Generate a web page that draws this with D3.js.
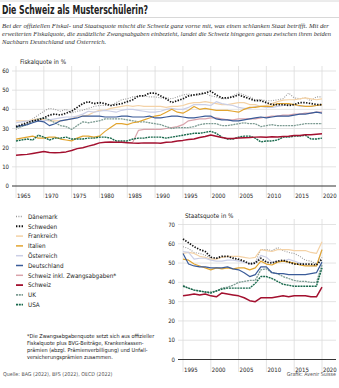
<!DOCTYPE html>
<html>
<head>
<meta charset="utf-8">
<script src="https://cdn.jsdelivr.net/npm/d3@7"></script>
<style>
  body { margin: 0; background: #fff; }
  text { font-family: "Liberation Sans Narrow", "DejaVu Sans Condensed", "Roboto", sans-serif; fill: #222; }
  .sub { font-family: "Liberation Serif", "DejaVu Serif", serif; font-style: italic; fill: #333; }
</style>
</head>
<body>
<div id="chart"></div>
<script>
// Fiskalquote in % (OECD), 1965-2020
var yearsFiskal = d3.range(1965, 2021);
var fiskalDK = [29.5, 31, 32.5, 35, 37, 39, 40.5, 40, 39, 40,
  38, 39, 39.5, 40.5, 41.5, 42, 42, 42, 43.5, 45,
  45.5, 46.5, 47, 47, 46.5, 46.5, 46, 46, 45.5, 46.5,
  47.5, 48, 47.5, 47.5, 48.5, 47, 46.5, 45.5, 45.5, 47,
  48.5, 47.5, 46.5, 45, 45, 44.5, 44.5, 45, 45.5, 48.5,
  46, 45.5, 46, 44.5, 46.5, 46.5];
var fiskalSE = [31, 32, 33, 34, 34.5, 35.5, 37, 37.5, 37, 38,
  39, 41, 43, 44, 43, 43.5, 43, 42, 42.5, 43,
  44, 45, 47, 47, 48.5, 48.5, 47, 45.5, 43.5, 44.5,
  45.5, 47, 47.5, 48, 48.5, 49.5, 47.5, 46, 46, 46.5,
  47.5, 46.5, 45.5, 44.5, 44.5, 43.5, 42.5, 42.5, 42.5, 42,
  42.5, 43.5, 43.5, 43, 42.5, 42.5];
var fiskalFR = [34, 34, 34, 34.5, 35, 34.5, 34, 34, 34, 34.5,
  35, 36.5, 36.5, 37, 38.5, 39.5, 39.5, 40.5, 41, 41.5,
  42, 41.5, 42, 41.5, 41.5, 41.5, 41.5, 41, 41.5, 41.5,
  42, 43, 43.5, 43.5, 44, 43.5, 43, 42.5, 42.5, 43,
  43.5, 43.5, 42.5, 42.5, 41.5, 42, 43, 44, 44.8, 45,
  45, 45.5, 46, 45.5, 45, 45.5];
var fiskalIT = [24.5, 25, 25.5, 26, 25, 25, 25.5, 25.5, 24.5, 24,
  23.5, 25, 26, 26, 25.5, 26, 28.5, 30.5, 32.5, 32.5,
  32, 33, 33.5, 34.5, 35.5, 36.5, 37, 38.5, 40, 38.5,
  38, 39.5, 41.5, 40, 40.5, 40, 39.5, 39.5, 39.5, 39,
  38.5, 40, 41, 41, 41.5, 41.5, 41.5, 43, 43, 43,
  42.5, 42, 41.5, 41.5, 42, 42.5];
var fiskalAT = [33, 33.5, 34, 34, 34, 34, 34.5, 35, 35.5, 36,
  36, 36.5, 37.5, 39, 38.5, 39, 39.5, 39, 38.5, 39.5,
  40, 40, 39.5, 39, 38.5, 38.5, 39, 40, 40.5, 40,
  40, 41, 42.5, 42.5, 42.5, 42, 44, 43, 42.5, 42,
  41, 40.5, 40.5, 41.5, 41.5, 41, 41, 41.5, 42, 42.5,
  42.5, 41.5, 41.5, 41.5, 42, 42];
var fiskalDE = [31, 31.5, 32, 33, 34, 33.5, 31.5, 32.5, 34, 34.5,
  35, 35.5, 36.5, 36.5, 36.5, 36.5, 36, 36, 36, 36.5,
  36.5, 36, 36, 36, 36.5, 35.5, 35.5, 36, 36.5, 36.5,
  36, 35.5, 35.5, 36, 36.5, 36.5, 35, 34.5, 34.5, 34,
  34, 34.5, 35, 35.5, 36, 35.5, 36, 36.5, 36.5, 36.5,
  37, 37.5, 37.5, 38, 38.5, 38];
var fiskalCH = [16, 16.3, 16.5, 17, 17.5, 18, 17.5, 17.3, 17.5, 17.8,
  18.5, 19.5, 20, 20.8, 21.5, 22.5, 22.8, 23, 22.8, 22.8,
  22.6, 22.4, 22.3, 22.5, 22.4, 22.5, 22.3, 22.8, 23, 23.5,
  23.8, 24.3, 24.5, 25.3, 25.8, 26.6, 26, 25.3, 24.8, 24.8,
  25, 25.2, 25.3, 25.5, 25.6, 25.4, 25.7, 25.6, 25.8, 25.9,
  26.3, 26.4, 26.7, 26.8, 27, 27.2];
var fiskalUK = [30.5, 31, 32, 33.5, 35, 35.5, 34.5, 33, 31.5, 31,
  29.5, 31.5, 33.5, 33, 33.5, 34, 35, 35, 35, 35,
  34.5, 34, 33.5, 33.5, 33, 32.5, 32, 31, 30, 30.5,
  30.5, 30.5, 31, 32, 32.5, 32.5, 32.5, 31.5, 31.5, 32,
  32.5, 33, 32.5, 32.5, 31, 31.5, 32, 31.5, 31.5, 31.5,
  31.5, 32, 32.5, 32.5, 32.5, 32.5];
var fiskalUS = [23.5, 24, 24.5, 24, 26.5, 25.5, 24, 25, 25, 25.5,
  24.5, 24.5, 24.5, 25, 25, 25.5, 25.5, 25, 23.5, 23.5,
  23.5, 24.5, 25, 25, 25.5, 25.5, 25.5, 25, 25.5, 26,
  26.5, 27, 27.5, 27.5, 28, 28.5, 27.5, 25.5, 24.5, 24.5,
  25.5, 26, 26, 25, 23, 23.5, 23.5, 24, 25.5, 25.5,
  26, 26, 26.5, 24.5, 24.5, 25];

// Schweiz inkl. Zwangsabgaben, 1986-2020
var yearsZwang = d3.range(1986, 2021);
var fiskalCHzwang = [23, 29, 29.5, 29.5, 29.5, 29.5, 30, 30.5, 31, 32,
  34, 34.5, 35, 35, 35.5, 35.5, 35, 34.5, 34.5, 35,
  35, 35, 35, 35.5, 36, 36.5, 36.5, 37, 37, 37.5,
  37.5, 38, 38, 38.5, 38.5];

// Staatsquote in %, 1995-2020
var yearsStaat = d3.range(1995, 2021);
var staatDK = [58.5, 57.5, 55.5, 55, 54, 52.5, 52.5, 53, 53.5, 53,
  51.5, 50.5, 50, 50.5, 57, 57, 56.5, 58, 56.5, 55.5,
  55, 53.5, 51.5, 51, 49.5, 53];
var staatSE = [62.5, 60.5, 58.5, 57, 56, 53, 52.5, 53.5, 53.5, 52.5,
  52, 51, 49.5, 50, 52.5, 50.5, 50, 51, 51.5, 50.5,
  49.5, 49.5, 49.5, 49.5, 49, 52];
var staatFR = [55, 55.5, 55, 53.5, 53, 52, 52, 53, 53.5, 53.5,
  53.5, 53, 52.5, 53, 57, 56.5, 56, 57, 57, 57,
  56.5, 56.5, 56.5, 55.5, 55, 61];
var staatIT = [52, 51.5, 49.5, 48.5, 47.5, 46.5, 47.5, 47, 47.5, 47,
  47.5, 47.5, 46.5, 47.5, 51, 49.5, 49, 50.5, 51, 50.5,
  50, 49, 48.5, 48.5, 48.5, 57];
var staatAT = [56, 55.5, 52, 52.5, 52.5, 51.5, 51, 51, 51.5, 51.5,
  51, 50.5, 49.5, 50, 54, 53, 50.5, 51, 51, 52,
  51, 50, 49, 48.5, 48.5, 57];
var staatDE = [55, 49.5, 48.5, 48, 48, 47.5, 47.5, 47.5, 48, 47,
  46.5, 45, 43, 44, 48, 48, 45, 44.5, 44.5, 44,
  44, 44, 44, 44.5, 45, 50.5];
var staatCH = [33, 33.5, 34, 33.5, 34, 33, 32.5, 34.5, 34, 33.5,
  33, 32, 30.5, 30, 32, 32, 32, 32.5, 33, 32.5,
  33, 33, 33, 32.5, 32.5, 37.5];
var staatUK = [38.5, 37, 36, 35.5, 35, 35, 35.5, 37, 37.5, 38.5,
  40, 40.5, 41, 41, 46.5, 47, 45, 44.5, 43, 42,
  41, 40.5, 40.5, 40, 40, 49];
var staatUS = [38, 37, 36, 35.5, 35, 34.5, 35.5, 36.5, 37, 37,
  37, 37, 37, 39.5, 43, 43, 42, 40.5, 39, 38.5,
  38, 38, 38, 38, 38, 47.5];

var topTicksY = [0, 10, 20, 30, 40, 50, 60];
var topTicksX = [1965, 1970, 1975, 1980, 1985, 1990, 1995, 2000, 2005, 2010, 2015, 2020];
var botTicksY = [0, 10, 20, 30, 40, 50, 60, 70];
var botTicksX = [1995, 2000, 2005, 2010, 2015, 2020];

// line styles, one per country
var styles = {
  "Dänemark": { color: "#9a9a9a", width: 1.1, dash: "1,1.4" },
  "Schweden": { color: "#111111", width: 1.7, dash: "1.4,1.4" },
  "Frankreich": { color: "#f4d2a6", width: 1.2, dash: null },
  "Italien": { color: "#e2a530", width: 1.2, dash: null },
  "Österreich": { color: "#cbcfe6", width: 1.2, dash: null },
  "Deutschland": { color: "#3a5b98", width: 1.2, dash: null },
  "Schweiz inkl. Zwangsabgaben*": { color: "#d9a3ab", width: 1.2, dash: null },
  "Schweiz": { color: "#a3102f", width: 1.5, dash: null },
  "UK": { color: "#7d9c93", width: 1.3, dash: "2,0.8" },
  "USA": { color: "#17684b", width: 1.4, dash: "2,0.8" }
};

var fiskalSeries = [
  { name: "Dänemark", years: yearsFiskal, values: fiskalDK },
  { name: "Frankreich", years: yearsFiskal, values: fiskalFR },
  { name: "Österreich", years: yearsFiskal, values: fiskalAT },
  { name: "Schweiz inkl. Zwangsabgaben*", years: yearsZwang, values: fiskalCHzwang },
  { name: "UK", years: yearsFiskal, values: fiskalUK },
  { name: "Italien", years: yearsFiskal, values: fiskalIT },
  { name: "Deutschland", years: yearsFiskal, values: fiskalDE },
  { name: "USA", years: yearsFiskal, values: fiskalUS },
  { name: "Schweiz", years: yearsFiskal, values: fiskalCH },
  { name: "Schweden", years: yearsFiskal, values: fiskalSE }
];

var staatSeries = [
  { name: "Dänemark", years: yearsStaat, values: staatDK },
  { name: "Frankreich", years: yearsStaat, values: staatFR },
  { name: "Österreich", years: yearsStaat, values: staatAT },
  { name: "UK", years: yearsStaat, values: staatUK },
  { name: "Italien", years: yearsStaat, values: staatIT },
  { name: "Deutschland", years: yearsStaat, values: staatDE },
  { name: "USA", years: yearsStaat, values: staatUS },
  { name: "Schweiz", years: yearsStaat, values: staatCH },
  { name: "Schweden", years: yearsStaat, values: staatSE }
];

var legendOrder = ["Dänemark", "Schweden", "Frankreich", "Italien", "Österreich",
  "Deutschland", "Schweiz inkl. Zwangsabgaben*", "Schweiz", "UK", "USA"];

var svgWidth = 339;
var svgHeight = 388;

var svg = d3.select("#chart").append("svg")
  .attr("width", svgWidth)
  .attr("height", svgHeight);

// header
svg.append("line").attr("x1", 0).attr("x2", svgWidth).attr("y1", 1).attr("y2", 1)
  .attr("stroke", "#d8d8d8").attr("stroke-width", 1);
svg.append("text")
  .attr("x", 2).attr("y", 13.5)
  .style("font-size", "11.5px").style("font-weight", "bold")
  .attr("textLength", 146).attr("lengthAdjust", "spacingAndGlyphs")
  .text("Die Schweiz als Musterschülerin?");
svg.append("line").attr("x1", 0).attr("x2", svgWidth).attr("y1", 17.5).attr("y2", 17.5)
  .attr("stroke", "#d8d8d8").attr("stroke-width", 1);

var subLines = [
  "Bei der offiziellen Fiskal- und Staatsquote mischt die Schweiz ganz vorne mit, was einen schlanken Staat betrifft. Mit der",
  "erweiterten Fiskalquote, die zusätzliche Zwangsabgaben einbezieht, landet die Schweiz hingegen genau zwischen ihren beiden",
  "Nachbarn Deutschland und Österreich."
];
var subWidths = [327, 329, null];
subLines.forEach(function(t, i) {
  var s = svg.append("text").attr("class", "sub")
    .attr("x", 2).attr("y", 27.5 + i * 8)
    .style("font-size", "6.6px")
    .text(t);
  if (subWidths[i]) s.attr("textLength", subWidths[i]).attr("lengthAdjust", "spacingAndGlyphs");
});

// draws one panel: grid, axes labels, lines
function drawPanel(xScale, yScale, ticksX, ticksY, series, gridLeft, gridRight, gridTop, gridBottom, title, titleX) {
  var g = svg.append("g");

  g.selectAll(".hgrid").data(ticksY.filter(function(d) { return d > 0; }))
    .enter().append("line")
    .attr("x1", gridLeft).attr("x2", gridRight)
    .attr("y1", function(d) { return yScale(d); })
    .attr("y2", function(d) { return yScale(d); })
    .attr("stroke", "#dcdcdc").attr("stroke-width", 0.8);

  g.selectAll(".vgrid").data(ticksX)
    .enter().append("line")
    .attr("x1", function(d) { return xScale(d); })
    .attr("x2", function(d) { return xScale(d); })
    .attr("y1", gridTop).attr("y2", gridBottom)
    .attr("stroke", "#dcdcdc").attr("stroke-width", 0.8);

  g.selectAll(".ylab").data(ticksY)
    .enter().append("text")
    .attr("x", gridLeft - 3)
    .attr("y", function(d) { return yScale(d) + 2; })
    .attr("text-anchor", "end")
    .style("font-size", "6px")
    .text(function(d) { return d; });

  g.selectAll(".xlab").data(ticksX)
    .enter().append("text")
    .attr("x", function(d) { return xScale(d) + 1; })
    .attr("y", yScale(0) + 12)
    .style("font-size", "6px")
    .text(function(d) { return d; });

  g.append("text")
    .attr("x", titleX).attr("y", yScale(ticksY[ticksY.length - 1]) - 7)
    .style("font-size", "6.3px")
    .text(title);

  var line = d3.line()
    .x(function(d) { return xScale(d[0]); })
    .y(function(d) { return yScale(d[1]); });

  series.forEach(function(s) {
    var st = styles[s.name];
    var pts = s.years.map(function(y, i) { return [y, s.values[i]]; });
    g.append("path")
      .datum(pts)
      .attr("d", line)
      .attr("fill", "none")
      .attr("stroke", st.color)
      .attr("stroke-width", st.width)
      .attr("stroke-dasharray", st.dash)
      .attr("stroke-linejoin", "round");
  });

  // zero line
  g.append("line")
    .attr("x1", gridLeft).attr("x2", gridRight)
    .attr("y1", yScale(0)).attr("y2", yScale(0))
    .attr("stroke", "#333").attr("stroke-width", 1);
}

var xTop = d3.scaleLinear().domain([1965, 2020]).range([16, 322]);
var yTop = d3.scaleLinear().domain([0, 60]).range([186, 71]);
drawPanel(xTop, yTop, topTicksX, topTicksY, fiskalSeries, 12, 336, 66, 198, "Fiskalquote in %", 20);

var xBot = d3.scaleLinear().domain([1995, 2020]).range([183, 322]);
var yBot = d3.scaleLinear().domain([0, 70]).range([359.5, 224.5]);
drawPanel(xBot, yBot, botTicksX, botTicksY, staatSeries, 178, 336, 219, 372, "Staatsquote in %", 185);

// legend
var legend = svg.append("g");
legendOrder.forEach(function(name, i) {
  var st = styles[name];
  var y = 216.5 + i * 9.8;
  legend.append("line")
    .attr("x1", 16).attr("x2", 23)
    .attr("y1", y).attr("y2", y)
    .attr("stroke", st.color)
    .attr("stroke-width", st.width + 0.3)
    .attr("stroke-dasharray", st.dash);
  legend.append("text")
    .attr("x", 28).attr("y", y + 2.2)
    .style("font-size", "6.3px")
    .text(name);
});

// footnote
var notes = [
  "*Die Zwangsabgabenquote setzt sich aus offizieller",
  "Fiskalquote plus BVG-Beiträge, Krankenkassen-",
  "prämien (abzgl. Prämienverbilligung) und Unfall-",
  "versicherungsprämien zusammen."
];
notes.forEach(function(t, i) {
  svg.append("text")
    .attr("x", 27).attr("y", 338 + i * 6.9)
    .style("font-size", "5.5px")
    .text(t);
});

// source line
svg.append("text")
  .attr("x", 3).attr("y", 376)
  .style("font-size", "5.3px").style("fill", "#555")
  .text("Quelle: BAG (2022), BFS (2022), OECD (2022)");
svg.append("text")
  .attr("x", 336).attr("y", 376)
  .attr("text-anchor", "end")
  .style("font-size", "5.3px").style("fill", "#555")
  .text("Grafik: Avenir Suisse");
</script>
</body>
</html>
